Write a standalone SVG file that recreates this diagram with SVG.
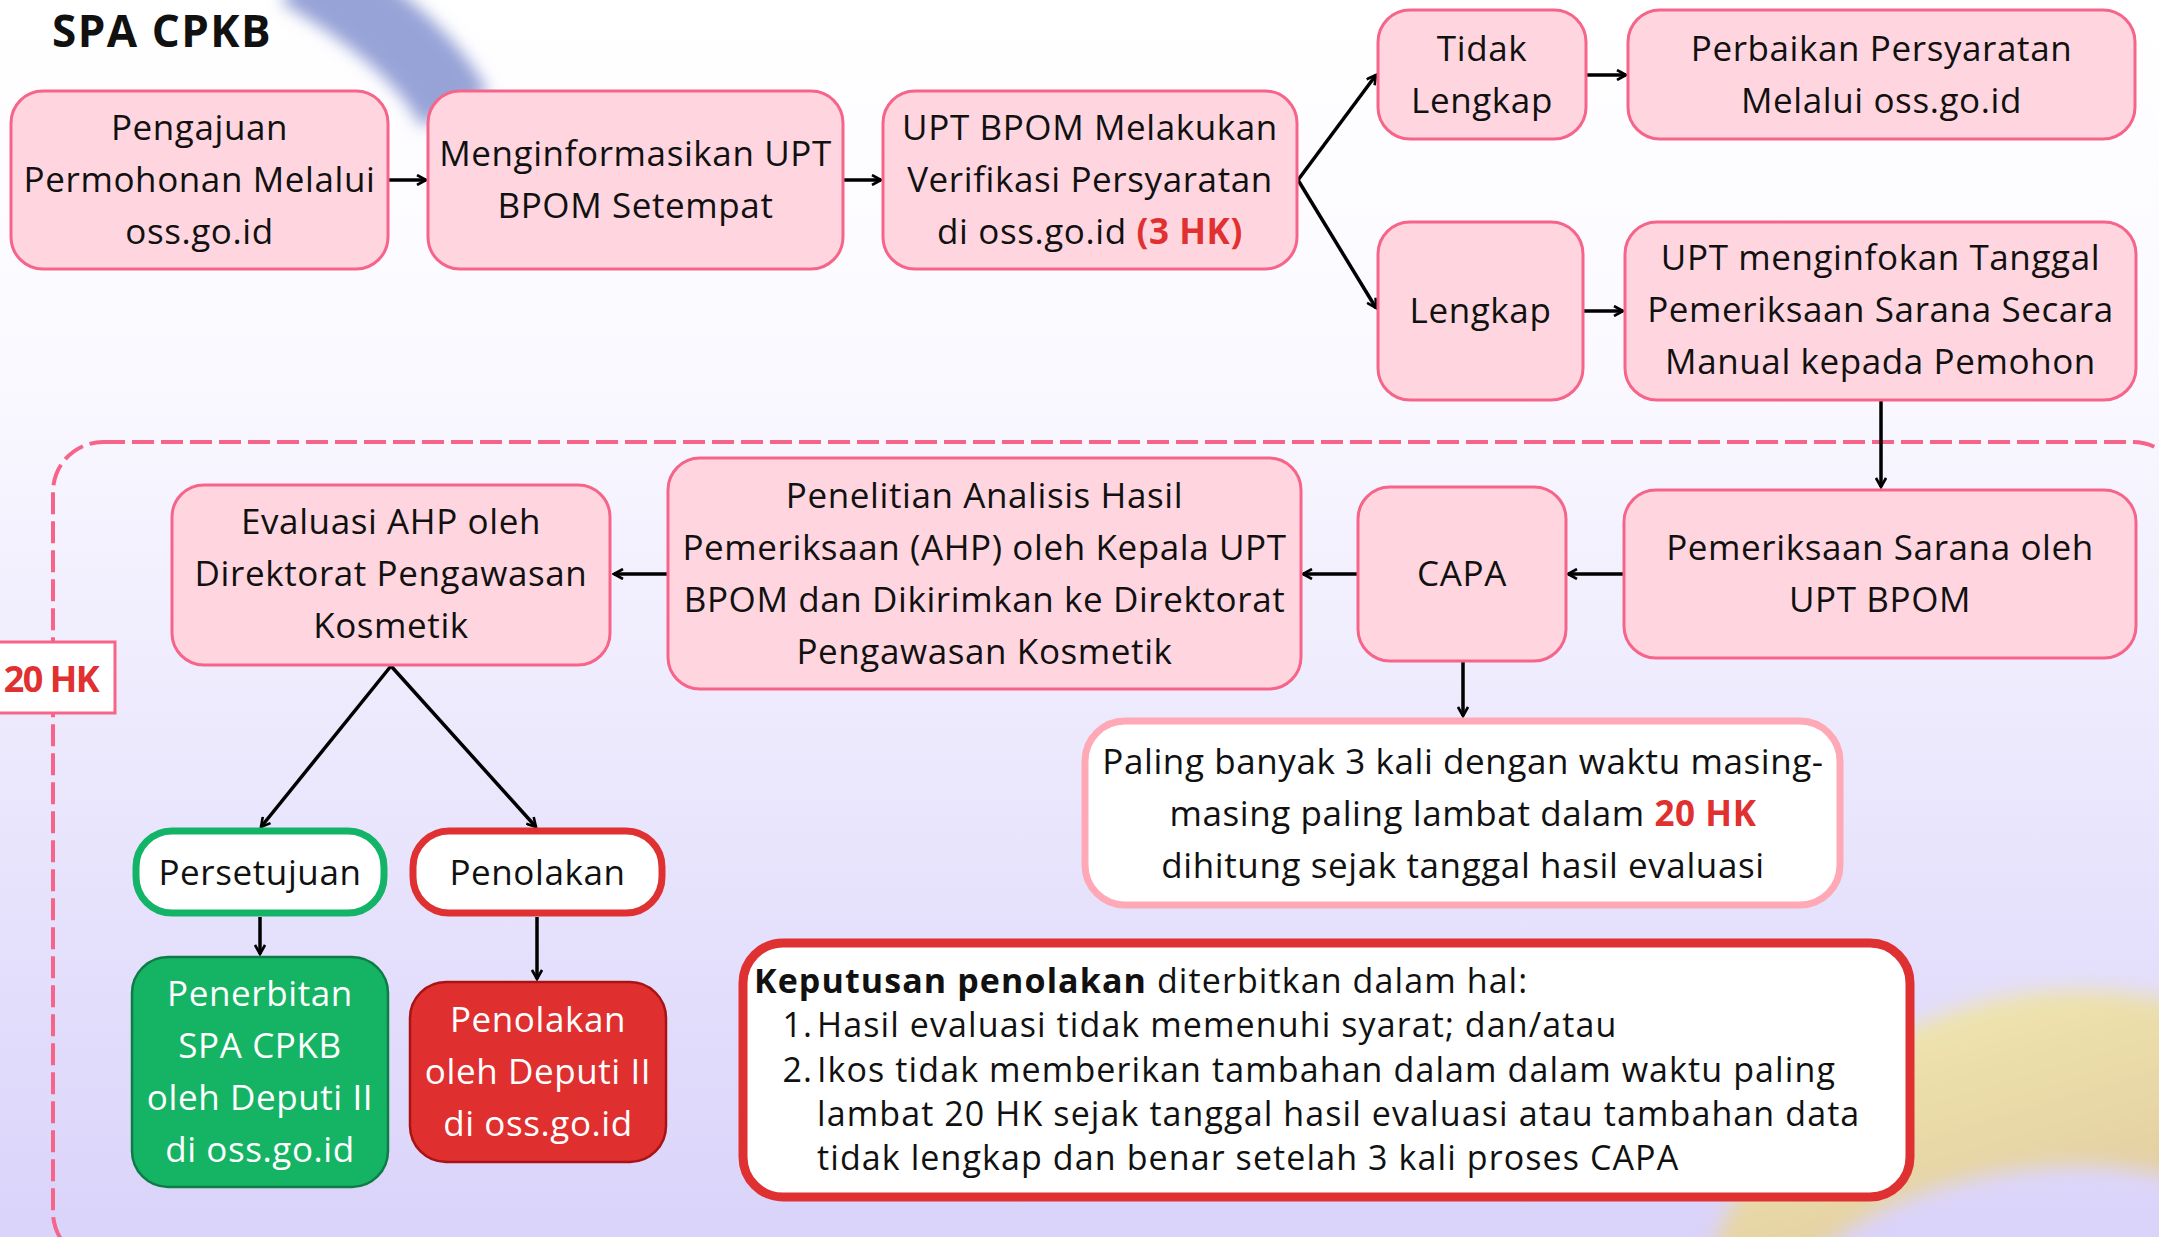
<svg xmlns="http://www.w3.org/2000/svg" width="2159" height="1237" viewBox="0 0 2159 1237">
<defs>
<linearGradient id="bg" x1="0" y1="0" x2="0" y2="1">
<stop offset="0" stop-color="#FFFFFF"/>
<stop offset="0.3" stop-color="#FAF9FF"/>
<stop offset="1" stop-color="#DAD3FA"/>
</linearGradient>
<linearGradient id="ring" x1="0" y1="0" x2="0.3" y2="1">
<stop offset="0" stop-color="#F3EDB4"/>
<stop offset="0.5" stop-color="#DFC69C"/>
<stop offset="1" stop-color="#E3CFA3"/>
</linearGradient>
<filter id="blur8" x="-50%" y="-50%" width="200%" height="200%"><feGaussianBlur stdDeviation="8"/></filter>
<filter id="blur10" x="-50%" y="-50%" width="200%" height="200%"><feGaussianBlur stdDeviation="10"/></filter>
<marker id="ah" viewBox="0 0 12 12" refX="10" refY="6" markerWidth="12" markerHeight="12" markerUnits="userSpaceOnUse" orient="auto">
<path d="M1,1 L10,6 L1,11" fill="none" stroke="#000" stroke-width="2.6" stroke-linejoin="miter"/>
</marker>
<style>
.t{font-family:"Open Sans","Noto Sans",sans-serif;font-size:35px;letter-spacing:0.6px;fill:#111;text-anchor:middle}
.w{fill:#fff}
.pk{fill:#FFD6DF;stroke:#F7648A;stroke-width:3}
.c{stroke:#000;stroke-width:3.5;fill:none;marker-end:url(#ah)}
.red{fill:#E0302F;font-weight:bold}
.k{font-family:"Open Sans","Noto Sans",sans-serif;font-size:34px;letter-spacing:1.1px;fill:#111}
</style>
</defs>
<rect x="0" y="0" width="2159" height="1237" fill="url(#bg)"/>
<path d="M300,-30 Q420,40 455,110" stroke="#97A3D7" stroke-width="75" fill="none" filter="url(#blur8)"/>
<path fill-rule="evenodd" fill="url(#ring)" filter="url(#blur10)" d="M1690,1380 A390,390 0 1 1 2470,1380 A390,390 0 1 1 1690,1380 Z M1770,1350 A265,150 -8 1 0 2300,1290 A265,150 -8 1 0 1770,1350 Z"/>

<text x="52" y="47" font-family="Open Sans, Noto Sans, sans-serif" font-size="44" font-weight="bold" letter-spacing="1.5" fill="#111">SPA CPKB</text>

<rect x="53" y="442" width="2130" height="820" rx="50" fill="none" stroke="#F7648A" stroke-width="4" stroke-dasharray="22 7"/>

<g id="connectors">
<line class="c" x1="388" y1="180" x2="426" y2="180"/>
<line class="c" x1="843" y1="180" x2="881" y2="180"/>
<line class="c" x1="1298" y1="180" x2="1376" y2="75"/>
<line class="c" x1="1298" y1="180" x2="1376" y2="308"/>
<line class="c" x1="1586" y1="75" x2="1626" y2="75"/>
<line class="c" x1="1583" y1="311" x2="1623" y2="311"/>
<line class="c" x1="1881" y1="400" x2="1881" y2="487"/>
<line class="c" x1="1624" y1="574" x2="1568" y2="574"/>
<line class="c" x1="1358" y1="574" x2="1303" y2="574"/>
<line class="c" x1="668" y1="574" x2="614" y2="574"/>
<line class="c" x1="1463" y1="661" x2="1463" y2="716"/>
<line class="c" x1="391" y1="666" x2="261" y2="827"/>
<line class="c" x1="391" y1="666" x2="536" y2="827"/>
<line class="c" x1="260" y1="917" x2="260" y2="954"/>
<line class="c" x1="537" y1="917" x2="537" y2="979"/>
</g>

<g id="n1"><rect class="pk" x="11" y="91" width="377" height="178" rx="32"/>
<text class="t"><tspan x="199.5" y="140">Pengajuan</tspan><tspan x="199.5" y="192">Permohonan Melalui</tspan><tspan x="199.5" y="244">oss.go.id</tspan></text></g>

<g id="n2"><rect class="pk" x="428" y="91" width="415" height="178" rx="32"/>
<text class="t"><tspan x="635.5" y="166">Menginformasikan UPT</tspan><tspan x="635.5" y="218">BPOM Setempat</tspan></text></g>

<g id="n3"><rect class="pk" x="883" y="91" width="414" height="178" rx="32"/>
<text class="t"><tspan x="1090" y="140">UPT BPOM Melakukan</tspan><tspan x="1090" y="192">Verifikasi Persyaratan</tspan><tspan x="1090" y="244">di oss.go.id <tspan class="red">(3 HK)</tspan></tspan></text></g>

<g id="n4"><rect class="pk" x="1378" y="10" width="208" height="129" rx="32"/>
<text class="t"><tspan x="1482" y="61">Tidak</tspan><tspan x="1482" y="113">Lengkap</tspan></text></g>

<g id="n5"><rect class="pk" x="1628" y="10" width="507" height="129" rx="32"/>
<text class="t"><tspan x="1881.5" y="61">Perbaikan Persyaratan</tspan><tspan x="1881.5" y="113">Melalui oss.go.id</tspan></text></g>

<g id="n6"><rect class="pk" x="1378" y="222" width="205" height="178" rx="32"/>
<text class="t"><tspan x="1480.5" y="323">Lengkap</tspan></text></g>

<g id="n7"><rect class="pk" x="1625" y="222" width="511" height="178" rx="32"/>
<text class="t"><tspan x="1880.5" y="270">UPT menginfokan Tanggal</tspan><tspan x="1880.5" y="322">Pemeriksaan Sarana Secara</tspan><tspan x="1880.5" y="374">Manual kepada Pemohon</tspan></text></g>

<g id="n8"><rect class="pk" x="1624" y="490" width="512" height="168" rx="32"/>
<text class="t"><tspan x="1880" y="560">Pemeriksaan Sarana oleh</tspan><tspan x="1880" y="612">UPT BPOM</tspan></text></g>

<g id="n9"><rect class="pk" x="1358" y="487" width="208" height="174" rx="32"/>
<text class="t"><tspan x="1462" y="586">CAPA</tspan></text></g>

<g id="n10"><rect class="pk" x="668" y="458" width="633" height="231" rx="32"/>
<text class="t"><tspan x="984.5" y="508">Penelitian Analisis Hasil</tspan><tspan x="984.5" y="560">Pemeriksaan (AHP) oleh Kepala UPT</tspan><tspan x="984.5" y="612">BPOM dan Dikirimkan ke Direktorat</tspan><tspan x="984.5" y="664">Pengawasan Kosmetik</tspan></text></g>

<g id="n11"><rect class="pk" x="172" y="485" width="438" height="180" rx="32"/>
<text class="t"><tspan x="391" y="534">Evaluasi AHP oleh</tspan><tspan x="391" y="586">Direktorat Pengawasan</tspan><tspan x="391" y="638">Kosmetik</tspan></text></g>

<g id="n12"><rect x="-5" y="642" width="120" height="71" fill="#fff" stroke="#F7648A" stroke-width="3"/>
<text x="51" y="692" font-family="Open Sans, Noto Sans, sans-serif" font-size="36" font-weight="bold" fill="#E0302F" text-anchor="middle" letter-spacing="-1.5">20 HK</text></g>

<g id="n13"><rect x="136" y="831" width="248" height="82" rx="36" fill="#fff" stroke="#14B468" stroke-width="7"/>
<text class="t"><tspan x="260" y="885">Persetujuan</tspan></text></g>

<g id="n14"><rect x="413" y="831" width="249" height="82" rx="36" fill="#fff" stroke="#DF3131" stroke-width="7"/>
<text class="t"><tspan x="537.5" y="885">Penolakan</tspan></text></g>

<g id="n15"><rect x="132" y="957" width="256" height="230" rx="36" fill="#14B464" stroke="#0F7C47" stroke-width="2.5"/>
<text class="t w"><tspan x="260" y="1006">Penerbitan</tspan><tspan x="260" y="1058">SPA CPKB</tspan><tspan x="260" y="1110">oleh Deputi II</tspan><tspan x="260" y="1162">di oss.go.id</tspan></text></g>

<g id="n16"><rect x="410" y="982" width="256" height="180" rx="36" fill="#DF2F2F" stroke="#A81414" stroke-width="2.5"/>
<text class="t w"><tspan x="538" y="1032">Penolakan</tspan><tspan x="538" y="1084">oleh Deputi II</tspan><tspan x="538" y="1136">di oss.go.id</tspan></text></g>

<g id="n17"><rect x="1085" y="721" width="755" height="184" rx="40" fill="#fff" stroke="#FFA8B6" stroke-width="7"/>
<text class="t"><tspan x="1463" y="774">Paling banyak 3 kali dengan waktu masing-</tspan><tspan x="1463" y="826">masing paling lambat dalam <tspan class="red">20 HK</tspan></tspan><tspan x="1463" y="878">dihitung sejak tanggal hasil evaluasi</tspan></text></g>

<g id="n18"><rect x="743" y="943" width="1167" height="254" rx="40" fill="#fff" stroke="#DF3131" stroke-width="9"/>
<text class="k"><tspan x="754" y="993"><tspan font-weight="bold">Keputusan penolakan</tspan> diterbitkan dalam hal:</tspan></text>
<text class="k" text-anchor="end"><tspan x="813" y="1037">1.</tspan><tspan x="813" y="1082">2.</tspan></text>
<text class="k"><tspan x="817" y="1037">Hasil evaluasi tidak memenuhi syarat; dan/atau</tspan>
<tspan x="817" y="1082">Ikos tidak memberikan tambahan dalam dalam waktu paling</tspan>
<tspan x="817" y="1126">lambat 20 HK sejak tanggal hasil evaluasi atau tambahan data</tspan>
<tspan x="817" y="1170">tidak lengkap dan benar setelah 3 kali proses CAPA</tspan></text></g>
</svg>
